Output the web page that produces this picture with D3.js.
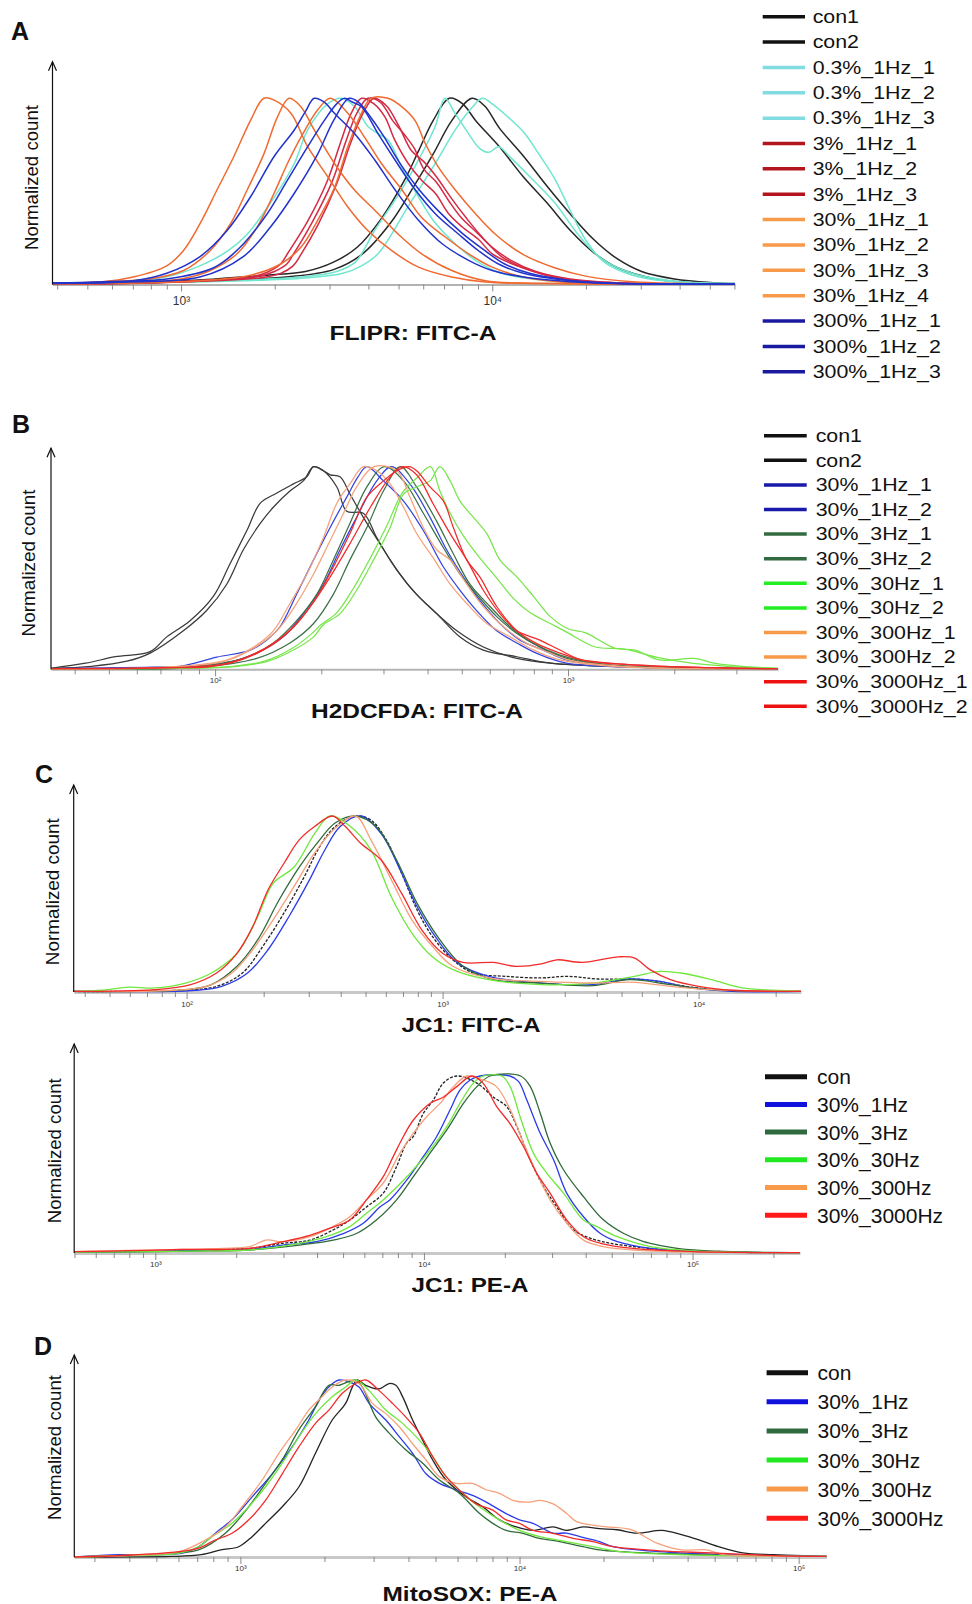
<!DOCTYPE html>
<html>
<head>
<meta charset="utf-8">
<script src="https://cdn.jsdelivr.net/npm/d3@7"></script>
<style>
  body { margin: 0; background: #fff; }
  svg { display: block; }
  text { font-family: "Liberation Sans", Arial, sans-serif; }
</style>
</head>
<body>
<div id="chart"></div>
<script>
// ---- data: each point is [log10 intensity, normalized count %] ----

// panel A : FLIPR
const aNames = ['con1', 'con2', '0.3%_1Hz_1', '0.3%_1Hz_2', '0.3%_1Hz_3', '3%_1Hz_1', '3%_1Hz_2', '3%_1Hz_3',
  '30%_1Hz_1', '30%_1Hz_2', '30%_1Hz_3', '30%_1Hz_4', '300%_1Hz_1', '300%_1Hz_2', '300%_1Hz_3'];
const aTicks = [1e3, 1e4];
const aTickLabels = ['10³', '10⁴'];
const aCon1 = [[2.587,0.5],[2.9,1],[3.11,3],[3.277,5],[3.4,7],[3.49,12],[3.566,20],[3.642,35],[3.718,56],[3.764,72],[3.81,88],[3.862,100],[3.905,97],[3.947,88],[4.023,74],[4.099,58],[4.175,44],[4.251,29],[4.327,17],[4.403,9],[4.525,3],[4.63,1],[4.78,0.3]];
const aCon2 = [[2.587,0.5],[2.9,1],[3.1,2],[3.338,4],[3.49,8],[3.58,16],[3.673,33],[3.749,53],[3.81,70],[3.87,88],[3.935,100],[3.975,96],[4.023,84],[4.1,69],[4.175,53],[4.25,38],[4.327,24],[4.4,14],[4.48,7],[4.585,3],[4.71,1],[4.78,0.5]];
const aT1 = [[2.587,0.5],[2.9,1],[3.2,2.5],[3.385,4],[3.5,7],[3.56,12],[3.622,29],[3.709,51],[3.773,70],[3.817,85],[3.848,100],[3.88,92],[3.92,82],[3.96,73],[3.99,71],[4.02,74],[4.06,68],[4.12,58],[4.2,44],[4.28,26],[4.35,14],[4.45,6],[4.6,1.5],[4.78,0.4]];
const aT2 = [[2.587,0.5],[2.9,1],[3.2,2],[3.4,3.5],[3.52,6],[3.58,10],[3.633,16.5],[3.73,42],[3.817,65],[3.881,83],[3.935,95],[3.968,100],[4.0,97],[4.05,90],[4.1,82],[4.15,70],[4.2,57],[4.25,40],[4.3,24],[4.36,12],[4.45,5],[4.55,2],[4.78,0.5]];
const aT3 = [[2.587,0.5],[2.8,1.5],[2.95,4],[3.06,10],[3.15,18],[3.2125,27],[3.3,47],[3.364,65],[3.407,83],[3.471,97],[3.515,100],[3.558,95.5],[3.6,85],[3.633,81],[3.666,77.5],[3.709,63],[3.763,47],[3.817,33],[3.88,22],[3.946,13],[4.03,6],[4.15,2.5],[4.35,0.8],[4.78,0.3]];
const aR1 = [[2.587,0.3],[2.9,1],[3.1,2.5],[3.223,4],[3.277,6.6],[3.32,11],[3.342,16.5],[3.407,34],[3.471,56],[3.515,77.5],[3.547,92],[3.58,100],[3.62,97],[3.655,90],[3.687,77.5],[3.73,65],[3.773,56],[3.817,49],[3.86,38],[3.903,31],[3.957,24],[4.0,16.5],[4.08,10],[4.175,5],[4.25,2.5],[4.4,0.8],[4.78,0.3]];
const aR2 = [[2.587,0.3],[2.9,1],[3.1,2.2],[3.24,4],[3.3,7],[3.34,11],[3.36,16],[3.42,33],[3.485,55],[3.53,77],[3.565,92],[3.6,100],[3.64,98],[3.68,88],[3.72,80],[3.75,73],[3.78,62],[3.82,55],[3.86,45],[3.9,36],[3.95,28],[4.0,20],[4.06,13],[4.14,7],[4.25,3],[4.4,1],[4.78,0.3]];
const aR3 = [[2.587,0.3],[2.9,0.8],[3.1,2],[3.25,3.5],[3.32,6],[3.36,10],[3.385,16],[3.44,32],[3.5,54],[3.545,76],[3.585,92],[3.62,100],[3.66,96],[3.7,85],[3.74,72],[3.78,66],[3.82,58],[3.87,46],[3.92,35],[3.97,25],[4.03,15],[4.1,9],[4.2,4],[4.3,1.5],[4.78,0.3]];
const aO1 = [[2.587,0.6],[2.738,1.3],[2.846,4],[2.954,10],[3.008,18.3],[3.061,32.7],[3.115,50.6],[3.169,68.5],[3.223,88],[3.266,100],[3.299,99],[3.353,92],[3.407,74],[3.471,58],[3.536,41.6],[3.6,29],[3.676,18.3],[3.763,9.3],[3.87,4],[3.978,1.3],[4.2,0.5],[4.78,0.3]];
const aO2 = [[2.587,0.5],[2.75,1.5],[2.9,3],[3.008,7.5],[3.094,18.3],[3.159,32.7],[3.212,50.6],[3.266,70],[3.31,90],[3.347,100],[3.385,95.5],[3.428,83],[3.493,65],[3.558,50.6],[3.622,40],[3.698,27],[3.773,16.5],[3.87,7.5],[3.978,2],[4.2,0.6],[4.78,0.3]];
const aO3 = [[2.587,0.4],[2.8,1],[3.0,3],[3.094,7.5],[3.18,16.5],[3.245,31],[3.299,49],[3.342,65],[3.385,79],[3.44,94],[3.48,100],[3.536,92],[3.59,79],[3.644,65],[3.709,51],[3.773,36],[3.849,25.5],[3.924,16.5],[4.0,9.3],[4.1,4],[4.25,1],[4.78,0.3]];
const aO4 = [[2.587,0.4],[2.9,1],[3.06,2],[3.223,5],[3.32,11],[3.385,20],[3.439,34.5],[3.493,52],[3.536,74],[3.58,92],[3.61,100],[3.665,100],[3.709,95.5],[3.752,88],[3.784,76],[3.827,63],[3.88,51],[3.946,38],[4.01,27],[4.1,16],[4.2,9],[4.3,4.5],[4.45,1.5],[4.78,0.3]];
const aB1 = [[2.587,0.8],[2.738,1],[2.846,2],[2.954,6],[3.061,15],[3.148,29],[3.223,47],[3.3,69],[3.364,83],[3.4,93],[3.428,100],[3.46,98],[3.493,92],[3.558,81],[3.622,67],[3.687,51],[3.763,34.5],[3.838,22],[3.924,13],[4.0,7.5],[4.1,4],[4.25,1.5],[4.4,0.5],[4.78,0.3]];
const aB2 = [[2.587,0.8],[2.75,1.5],[2.954,3],[3.105,9],[3.19,20],[3.277,38],[3.342,56],[3.407,74],[3.46,88],[3.5,97],[3.525,100],[3.55,98],[3.58,95.5],[3.633,81],[3.687,67],[3.752,51],[3.817,38],[3.892,27],[3.957,18],[4.02,11],[4.1,6],[4.25,2],[4.4,0.6],[4.78,0.3]];
const aB3 = [[2.587,0.6],[2.8,1.2],[3.06,4],[3.2,15],[3.288,31],[3.364,49],[3.439,70],[3.49,88],[3.54,100],[3.57,98],[3.6,92],[3.65,80],[3.7,66],[3.76,52],[3.83,39],[3.9,28],[3.97,19],[4.04,11],[4.12,6],[4.25,2.2],[4.4,0.7],[4.78,0.3]];
const aSeries = [aCon1, aCon2, aT1, aT2, aT3, aR1, aR2, aR3, aO1, aO2, aO3, aO4, aB1, aB2, aB3];

// panel B : H2DCFDA
const bNames = ['con1', 'con2', '30%_1Hz_1', '30%_1Hz_2', '30%_3Hz_1', '30%_3Hz_2', '30%_30Hz_1', '30%_30Hz_2',
  '30%_300Hz_1', '30%_300Hz_2', '30%_3000Hz_1', '30%_3000Hz_2'];
const bTicks = [1e2, 1e3];
const bTickLabels = ['10²', '10³'];
const bCon1 = [[1.535,0.5],[1.633,3],[1.717,6.2],[1.816,8.7],[1.863,16],[1.929,24],[1.995,36],[2.042,52],[2.09,68.5],[2.128,82],[2.175,87],[2.222,91.5],[2.26,95],[2.279,100],[2.307,98],[2.326,96],[2.354,95],[2.382,86.5],[2.42,75],[2.467,62],[2.515,49],[2.571,37],[2.628,27.5],[2.694,16],[2.76,9.5],[2.855,6.2],[2.95,3],[3.147,1.3],[3.595,0.3]];
const bCon2 = [[1.535,0.5],[1.65,1.5],[1.75,4],[1.816,8],[1.91,19],[1.976,29],[2.033,42],[2.08,59],[2.128,72],[2.165,80],[2.212,88],[2.25,93],[2.279,100],[2.307,98],[2.345,90],[2.373,78],[2.42,77],[2.458,65],[2.496,54],[2.552,40.6],[2.618,29],[2.685,19],[2.76,11],[2.855,5.4],[2.95,3],[3.147,1.3],[3.595,0.3]];
const b1Hz1 = [[1.535,0.3],[1.8,1],[1.9,1.5],[2.005,6],[2.1,9.5],[2.15,15],[2.184,21],[2.231,37],[2.279,54],[2.326,70],[2.373,85],[2.405,95],[2.43,100],[2.477,93],[2.534,83],[2.59,68.5],[2.647,50.5],[2.694,39],[2.741,29],[2.798,19],[2.855,13],[2.91,8],[2.996,3],[3.2,1],[3.595,0.3]];
const b1Hz2 = [[1.535,0.3],[1.85,1],[2.024,3],[2.118,8],[2.193,16],[2.25,27.5],[2.307,42],[2.354,59],[2.401,75],[2.458,93],[2.5,100],[2.552,91.5],[2.609,75],[2.656,59],[2.703,45.6],[2.75,34],[2.807,22.6],[2.864,14.4],[2.93,9.5],[2.996,4.6],[3.15,1.5],[3.595,0.3]];
const b3Hz1 = [[1.535,0.3],[1.9,1],[2.08,5.4],[2.165,13],[2.231,24],[2.288,37],[2.335,54],[2.382,72],[2.43,90],[2.48,100],[2.534,93],[2.59,77],[2.647,60],[2.694,47],[2.741,37],[2.798,26],[2.855,17.7],[2.92,11],[2.996,5.4],[3.15,1.5],[3.595,0.3]];
const b3Hz2 = [[1.535,0.3],[1.95,1],[2.118,5.4],[2.212,13],[2.279,22.6],[2.335,37],[2.382,54],[2.43,70],[2.477,88],[2.525,100],[2.571,90],[2.628,73],[2.675,57],[2.722,42],[2.779,31],[2.836,21],[2.902,12.8],[2.977,7],[3.1,2.5],[3.3,0.8],[3.595,0.3]];
const b30Hz1 = [[1.535,0.2],[2.0,0.8],[2.052,1.3],[2.146,3.8],[2.222,9.5],[2.279,16],[2.307,22],[2.354,27.5],[2.401,39],[2.449,54],[2.496,70],[2.534,86.5],[2.571,90],[2.609,93],[2.637,100],[2.666,93],[2.694,83],[2.732,75],[2.77,67],[2.807,54],[2.855,45.6],[2.902,36],[2.95,26],[3.0,20],[3.05,18],[3.133,10.4],[3.19,9.5],[3.26,4.6],[3.358,5.4],[3.414,3],[3.5,1.3],[3.595,0.5]];
const b30Hz2 = [[1.535,0.2],[2.0,0.9],[2.05,1.5],[2.14,4],[2.215,10],[2.27,17],[2.3,22],[2.345,28],[2.392,40],[2.44,55],[2.487,71],[2.53,87],[2.575,95],[2.61,100],[2.637,88],[2.666,77],[2.703,66],[2.75,55],[2.798,45],[2.845,35],[2.892,28],[2.95,22.6],[3.0,18],[3.077,11],[3.16,10],[3.25,6],[3.35,3],[3.45,1.5],[3.595,0.5]];
const b300Hz1 = [[1.535,0.3],[1.85,1],[2.033,4.6],[2.109,11],[2.165,19],[2.212,32.5],[2.26,47],[2.307,65],[2.345,82],[2.382,91.5],[2.42,100],[2.458,98],[2.496,91.5],[2.534,80],[2.571,67],[2.618,55],[2.666,42],[2.713,32.5],[2.77,22.6],[2.836,16],[2.902,9.5],[2.977,4.6],[3.15,1.2],[3.595,0.3]];
const b300Hz2 = [[1.535,0.3],[1.85,1],[2.024,3.8],[2.1,9.5],[2.175,19],[2.231,32.5],[2.279,47],[2.326,63.6],[2.364,77],[2.401,90],[2.45,100],[2.515,98],[2.552,85],[2.59,70],[2.628,59],[2.666,54],[2.713,42],[2.76,31],[2.817,21],[2.883,12.8],[2.95,8],[3.0,4.6],[3.15,1.5],[3.595,0.3]];
const b3000Hz1 = [[1.535,0.3],[1.9,0.8],[1.986,1.3],[2.08,5.4],[2.165,12.8],[2.231,22.6],[2.288,35.7],[2.335,50.5],[2.382,67],[2.43,85],[2.477,93],[2.515,98],[2.55,100],[2.571,98],[2.609,90],[2.647,83],[2.675,70],[2.713,54],[2.75,45.6],[2.798,31],[2.855,19],[2.91,12.8],[2.977,8],[3.04,4.6],[3.2,2],[3.4,0.8],[3.595,0.3]];
const b3000Hz2 = [[1.535,0.3],[1.9,1],[2.042,3],[2.137,9.5],[2.212,19],[2.27,31],[2.326,45.6],[2.382,62],[2.44,80],[2.496,95],[2.53,100],[2.571,96],[2.618,81.6],[2.666,67],[2.713,54],[2.76,39],[2.807,27.5],[2.855,19],[2.92,14.4],[2.977,9.5],[3.04,4.6],[3.2,2],[3.4,0.8],[3.595,0.3]];
const bSeries = [bCon1, bCon2, b1Hz1, b1Hz2, b3Hz1, b3Hz2, b30Hz1, b30Hz2, b300Hz1, b300Hz2, b3000Hz1, b3000Hz2];

// panels C and D share the six groups
const cdNames = ['con', '30%_1Hz', '30%_3Hz', '30%_30Hz', '30%_300Hz', '30%_3000Hz'];

// panel C, top : JC1 FITC-A
const c1Ticks = [1e2, 1e3, 1e4];
const c1TickLabels = ['10²', '10³', '10⁴'];
const c1Con = [[1.559,0.3],[1.976,1],[2.117,3.2],[2.218,10.8],[2.298,26],[2.38,44.8],[2.46,65.6],[2.52,82.6],[2.58,94],[2.66,100],[2.72,97.7],[2.78,86.4],[2.84,67.5],[2.9,46.7],[2.96,31.6],[3.04,18.3],[3.12,10.8],[3.245,8.9],[3.386,8],[3.486,8.9],[3.607,7.4],[3.79,7],[3.95,3.2],[4.09,1],[4.4,0.4]];
const c11Hz = [[1.559,0.3],[2.04,1],[2.137,3.2],[2.238,10.8],[2.318,24],[2.4,42.9],[2.48,63.7],[2.54,80.7],[2.6,94],[2.68,100],[2.76,90],[2.84,67.5],[2.9,48.6],[2.98,29.7],[3.06,16.4],[3.18,8.9],[3.386,5.1],[3.587,4.2],[3.73,7.4],[3.85,6],[3.97,2.3],[4.13,0.4],[4.4,0.3]];
const c13Hz = [[1.559,0.3],[1.996,1.3],[2.097,4.2],[2.197,14.6],[2.278,29.7],[2.36,52],[2.44,71],[2.52,86.4],[2.58,96],[2.66,100],[2.74,94],[2.82,75],[2.9,50.5],[2.98,31.6],[3.08,14.6],[3.2,7],[3.386,5.1],[3.587,3.6],[3.73,7],[3.89,4.2],[4.05,1.3],[4.4,0.3]];
const c130Hz = [[1.559,0.4],[1.674,1],[1.774,2.8],[1.875,2.3],[1.996,5.1],[2.097,10.8],[2.197,22],[2.278,42.9],[2.338,61.8],[2.42,71],[2.5,90],[2.56,100],[2.64,94],[2.72,80.7],[2.8,54],[2.88,33.5],[2.96,20],[3.04,12.7],[3.18,7],[3.386,4.2],[3.587,5.1],[3.75,8.9],[3.85,11.7],[3.93,10.8],[4.05,7],[4.17,2.3],[4.29,1],[4.4,0.4]];
const c1300Hz = [[1.559,0.3],[1.95,1],[2.077,3.2],[2.177,10.8],[2.258,24],[2.338,41],[2.42,60],[2.5,79],[2.58,93],[2.66,100],[2.72,86.4],[2.8,63.7],[2.88,41],[2.96,26],[3.04,14.6],[3.18,8],[3.386,6],[3.587,5.1],[3.75,5.5],[3.89,3.2],[4.05,1.3],[4.4,0.3]];
const c13000Hz = [[1.559,0.3],[1.875,1.3],[2.016,4.2],[2.117,10.8],[2.197,22],[2.258,37],[2.318,58],[2.38,73],[2.44,86.4],[2.5,94],[2.57,100],[2.62,94],[2.68,84.5],[2.76,75],[2.84,56],[2.92,35],[3.0,22],[3.08,16.8],[3.2,16.8],[3.285,14.6],[3.386,16],[3.446,18.3],[3.546,16.8],[3.688,20],[3.75,19.3],[3.81,12.7],[3.89,7],[4.0,3.2],[4.13,1],[4.4,0.3]];
const c1Series = [c1Con, c11Hz, c13Hz, c130Hz, c1300Hz, c13000Hz];

// panel C, bottom : JC1 PE-A
const c2Ticks = [1e3, 1e4, 1e5];
const c2TickLabels = ['10³', '10⁴', '10⁵'];
const c2Con = [[2.698,0.5],[3.0,1],[3.2,2],[3.35,2.6],[3.475,5.5],[3.575,7.3],[3.662,13],[3.724,18.6],[3.786,26],[3.848,33.7],[3.898,48.8],[3.935,62],[3.96,65.7],[3.998,79],[4.035,86.4],[4.072,96],[4.122,100],[4.197,96],[4.259,88],[4.308,82.7],[4.346,71.4],[4.396,52.5],[4.445,37.5],[4.495,26],[4.557,13],[4.62,8.3],[4.694,5.5],[4.78,3.6],[4.843,2.6],[5.0,1],[5.2,0.3],[5.4,0.2]];
const c21Hz = [[2.698,0.5],[3.0,1],[3.2,1.5],[3.35,2],[3.475,4.5],[3.6,6.4],[3.7,11],[3.774,16.8],[3.836,26],[3.873,30],[3.935,41],[3.998,54.6],[4.047,65.7],[4.097,80.8],[4.134,92],[4.172,97.7],[4.209,100],[4.32,100],[4.352,97],[4.383,86.4],[4.433,67.6],[4.483,52.5],[4.532,33.7],[4.594,20.5],[4.657,11],[4.72,6.4],[4.843,2.6],[5.0,1],[5.2,0.3],[5.4,0.2]];
const c23Hz = [[2.698,0.5],[3.0,0.8],[3.2,1.2],[3.35,1.7],[3.537,4.5],[3.662,7.3],[3.749,11],[3.823,18.6],[3.898,30],[3.96,43],[4.022,56.3],[4.085,69.5],[4.147,84.5],[4.197,94],[4.246,100],[4.36,100],[4.396,94],[4.433,79],[4.47,62],[4.52,46.9],[4.594,31.8],[4.669,18.6],[4.744,11],[4.818,6.4],[4.843,5.5],[4.95,2.5],[5.1,1],[5.3,0.3],[5.4,0.2]];
const c230Hz = [[2.698,0.5],[3.0,0.8],[3.2,1.2],[3.35,1.7],[3.537,5.5],[3.637,9.2],[3.724,14.9],[3.786,22.4],[3.848,30],[3.923,41],[3.96,47],[4.022,58],[4.085,71.4],[4.134,84.5],[4.184,96],[4.22,100],[4.29,100],[4.321,94],[4.358,77],[4.408,56.3],[4.458,45],[4.52,33.7],[4.594,18.6],[4.644,14.9],[4.72,9.2],[4.843,3.6],[5.0,1.2],[5.2,0.3],[5.4,0.2]];
const c2300Hz = [[2.698,0.8],[2.9,1.5],[3.1,2],[3.25,2.6],[3.35,3.6],[3.413,7.3],[3.475,6.4],[3.575,9.2],[3.662,15],[3.724,20.5],[3.786,30],[3.848,39.4],[3.91,56.3],[3.96,67.6],[4.01,77],[4.06,84.5],[4.11,94],[4.16,100],[4.22,97.7],[4.27,94],[4.321,81],[4.371,62],[4.42,45],[4.47,30],[4.532,16.8],[4.594,7.3],[4.669,3.6],[4.78,1.7],[5.0,0.6],[5.4,0.2]];
const c23000Hz = [[2.698,0.8],[2.9,1.3],[3.1,2],[3.35,2.6],[3.475,6.4],[3.575,10],[3.65,14],[3.724,18.6],[3.786,30],[3.848,43],[3.886,54.6],[3.923,65.7],[3.96,75],[4.022,84.5],[4.072,88],[4.122,94],[4.178,100],[4.22,96],[4.271,82.7],[4.321,73],[4.371,60],[4.42,45],[4.47,33.7],[4.532,18.6],[4.594,9.2],[4.657,5.5],[4.78,2.6],[5.0,0.8],[5.4,0.2]];
const c2Series = [c2Con, c21Hz, c23Hz, c230Hz, c2300Hz, c23000Hz];

// panel D : MitoSOX PE-A
const dTicks = [1e3, 1e4, 1e5];
const dTickLabels = ['10³', '10⁴', '10⁵'];
const dCon = [[2.405,0],[2.75,0.3],[2.86,1.3],[2.93,4],[2.994,5.8],[3.042,11.5],[3.09,19],[3.15,28.4],[3.21,39.7],[3.269,58.6],[3.329,77.4],[3.377,86.8],[3.401,96],[3.419,100],[3.449,97],[3.497,95],[3.533,98],[3.557,97],[3.581,90.6],[3.617,77.4],[3.653,66],[3.689,54.8],[3.737,43.5],[3.808,34],[3.868,28.4],[3.928,21],[3.988,17],[4.048,15],[4.12,17],[4.168,15],[4.228,17],[4.287,16],[4.35,15.4],[4.42,13.5],[4.51,15],[4.58,12.6],[4.64,9.8],[4.71,6],[4.8,2.3],[4.91,1.3],[5.02,0.7],[5.1,0.4]];
const d1Hz = [[2.405,0],[2.57,1.3],[2.79,2],[2.85,5.8],[2.922,15],[2.97,21],[3.042,34],[3.114,47],[3.186,62.3],[3.245,77.4],[3.293,91.5],[3.33,98],[3.353,100],[3.39,99],[3.425,96],[3.461,86.8],[3.521,77.4],[3.569,68],[3.617,58.6],[3.665,47],[3.713,41.6],[3.772,38],[3.844,34],[3.892,30],[3.952,24.5],[4.0,21],[4.048,19],[4.12,13.5],[4.168,13.5],[4.216,11.5],[4.287,8.7],[4.335,5.8],[4.5,3],[4.7,1.5],[5.1,0.4]];
const d3Hz = [[2.405,0],[2.6,1],[2.78,2.5],[2.85,4],[2.946,13.4],[3.03,28.4],[3.09,41.6],[3.15,55],[3.21,72],[3.269,85],[3.317,97],[3.353,97],[3.413,100],[3.437,96],[3.485,79],[3.533,70],[3.593,60.5],[3.653,53],[3.713,43.5],[3.784,36],[3.856,24.7],[3.904,19],[3.952,15],[4.012,13.4],[4.072,10.5],[4.144,8.7],[4.228,5.8],[4.287,4],[4.36,3],[4.6,1.5],[4.9,0.6],[5.1,0.3]];
const d30Hz = [[2.405,0],[2.6,0.8],[2.78,2],[2.85,5.8],[2.898,11.5],[2.97,19],[3.03,28.4],[3.09,39.7],[3.15,53],[3.21,68],[3.269,81],[3.329,90.6],[3.377,96],[3.413,100],[3.461,94],[3.521,83],[3.581,75.5],[3.641,66],[3.689,56.7],[3.737,45.4],[3.797,36],[3.856,28.4],[3.928,21],[4.0,15],[4.072,11.5],[4.168,8.7],[4.263,5.8],[4.36,3],[4.6,1.2],[5.1,0.3]];
const d300Hz = [[2.405,0],[2.6,1],[2.78,3],[2.874,9.6],[2.946,17],[3.006,28.4],[3.078,43.5],[3.138,58.6],[3.198,71.8],[3.245,83],[3.281,88.7],[3.329,96],[3.377,100],[3.425,98],[3.473,86.8],[3.521,81],[3.569,73.6],[3.617,64],[3.665,54.8],[3.713,45.4],[3.772,41.6],[3.832,41.6],[3.88,38],[3.928,36],[3.976,32],[4.036,31],[4.072,32],[4.12,30],[4.168,24.7],[4.204,20],[4.263,18],[4.311,17],[4.4,15.4],[4.49,8],[4.58,4],[4.67,4],[4.73,1.3],[4.9,0.5],[5.1,0.3]];
const d3000Hz = [[2.405,0],[2.6,1],[2.78,3],[2.85,5],[2.91,9.6],[2.97,13.4],[3.03,21],[3.09,32],[3.15,47],[3.21,62.3],[3.269,75.5],[3.317,83],[3.365,92.5],[3.413,98],[3.449,100],[3.497,94],[3.545,86.8],[3.593,79],[3.641,70],[3.689,56.7],[3.737,45.4],[3.797,36],[3.844,30],[3.904,26.5],[3.952,21],[4.0,19],[4.048,15],[4.12,13.4],[4.192,10.5],[4.263,8.7],[4.335,5.8],[4.5,3.5],[4.69,2.3],[4.91,0.8],[5.1,0.3]];
const dSeries = [dCon, d1Hz, d3Hz, d30Hz, d300Hz, d3000Hz];

// ---- colours ----
const aLineColors = ['#262626', '#262626', '#6fe6cf', '#6fe6cf', '#6fe6cf', '#d42a45', '#d42a45', '#d42a45',
  '#f06a30', '#f06a30', '#f06a30', '#f06a30', '#2233cc', '#2233cc', '#2233cc'];
const aKeyColors = ['#111', '#111', '#80dce0', '#80dce0', '#80dce0', '#b4141c', '#b4141c', '#b4141c',
  '#f79a4a', '#f79a4a', '#f79a4a', '#f79a4a', '#1a1aa0', '#1a1aa0', '#1a1aa0'];
const bLineColors = ['#3a3a3a', '#3a3a3a', '#3344e0', '#3344e0', '#3d7048', '#3d7048', '#77e64a', '#77e64a',
  '#f5a27a', '#f5a27a', '#f02a2a', '#f02a2a'];
const bKeyColors = ['#111', '#111', '#1a1aaa', '#1a1aaa', '#336b40', '#336b40', '#22ee22', '#22ee22',
  '#f79a4a', '#f79a4a', '#ee1111', '#ee1111'];
const cdLineColors = ['#222', '#2a3be8', '#2f6a3a', '#6fe83c', '#f6a07a', '#f22a2a'];
const cdKeyColors = ['#111', '#1111dd', '#2f6a3f', '#22e822', '#f79a4a', '#ff1a1a'];

// ---- drawing ----
const svg = d3.select('#chart').append('svg').attr('width', 972).attr('height', 1604);

function drawPanel(p) {
  const g = svg.append('g');
  const x = d3.scaleLog().domain([10 ** p.lo, 10 ** p.hi]).range([p.left, p.right]);
  const y = d3.scaleLinear().domain([0, 100]).range([p.base, p.top]);

  const minor = [];
  for (let k = Math.floor(p.lo); k <= Math.ceil(p.hi); k++) {
    for (let m = 1; m < 10; m++) {
      const v = m * 10 ** k;
      if (v >= 10 ** p.lo && v <= 10 ** p.hi) minor.push(v);
    }
  }
  const ax = g.append('g').attr('transform', `translate(0,${p.base})`)
    .call(d3.axisBottom(x).tickValues(minor).tickSize(5).tickSizeOuter(0)
      .tickFormat(v => { const i = p.ticks.indexOf(v); return i < 0 ? '' : p.tickLabels[i]; }));
  ax.select('.domain').attr('stroke', p.axisColor).attr('stroke-width', p.axisW);
  ax.selectAll('.tick line').attr('stroke', '#8a8a8a');
  ax.selectAll('.tick').filter(v => p.ticks.includes(v)).select('line').attr('y2', 7);
  ax.selectAll('.tick text').attr('y', p.tickY - p.base).attr('dy', null)
    .attr('font-size', p.tickFont).attr('fill', '#333')
    .attr('font-family', '"Liberation Sans", Arial, sans-serif');

  const line = d3.line()
    .x(d => x(10 ** d[0]))
    .y(d => y(d[1]))
    .curve(d3.curveCatmullRom.alpha(0.5));

  g.append('g').selectAll('path')
    .data(p.series)
    .join('path')
    .attr('d', line)
    .attr('fill', 'none')
    .attr('stroke', (d, i) => p.colors[i])
    .attr('stroke-width', p.lineW)
    .attr('stroke-dasharray', (d, i) => (p.dashFirst && i === 0) ? '3,1.5' : null);

  // y axis with open arrow head
  g.append('line')
    .attr('x1', p.left).attr('x2', p.left)
    .attr('y1', p.base).attr('y2', p.arrow)
    .attr('stroke', '#111').attr('stroke-width', 1.2);
  g.append('path')
    .attr('d', `M${p.left - 4},${p.arrow + 9}L${p.left},${p.arrow}L${p.left + 4},${p.arrow + 9}`)
    .attr('fill', 'none').attr('stroke', '#111').attr('stroke-width', 1.2);

  g.append('text')
    .attr('transform', `translate(${p.ylab[0]},${p.ylab[1]}) rotate(-90)`)
    .attr('text-anchor', 'middle').attr('dominant-baseline', 'central')
    .attr('font-size', 19).attr('fill', '#111')
    .attr('textLength', p.ylab[2]).attr('lengthAdjust', 'spacingAndGlyphs')
    .text('Normalized count');

  g.append('text')
    .attr('x', p.title[1]).attr('y', p.title[2])
    .attr('text-anchor', 'middle')
    .attr('font-size', 21).attr('font-weight', 'bold').attr('fill', '#111')
    .attr('textLength', p.title[3]).attr('lengthAdjust', 'spacingAndGlyphs')
    .text(p.title[0]);

  if (p.letter) {
    g.append('text')
      .attr('x', p.letter[1]).attr('y', p.letter[2])
      .attr('font-size', 25).attr('font-weight', 'bold').attr('fill', '#111')
      .text(p.letter[0]);
  }

  if (p.legend) {
    const L = p.legend;
    const row = g.append('g').selectAll('g')
      .data(L.names)
      .join('g')
      .attr('transform', (d, i) => `translate(0,${L.y0 + i * L.dy})`);
    row.append('line')
      .attr('x1', L.x1).attr('x2', L.x2)
      .attr('stroke', (d, i) => L.colors[i]).attr('stroke-width', L.lw);
    row.append('text')
      .attr('transform', `translate(${L.tx},${L.fs * 0.36}) scale(${L.sx},1)`)
      .attr('font-size', L.fs).attr('fill', '#111')
      .text(d => d);
  }
}

drawPanel({
  lo: 2.587, hi: 4.78, left: 52.5, right: 735, base: 284.5, top: 98.3, arrow: 61.7,
  ticks: aTicks, tickLabels: aTickLabels, tickY: 305, tickFont: 12, axisColor: '#9a9a9a', axisW: 1.5,
  series: aSeries, colors: aLineColors, lineW: 1.5,
  ylab: [31, 177.5, 145], title: ['FLIPR: FITC-A', 413, 340, 167], letter: ['A', 11, 40],
  legend: { names: aNames, colors: aKeyColors, y0: 16.7, dy: 25.36, x1: 762.7, x2: 805, tx: 812.7, fs: 17.5, sx: 1.22, lw: 3.5 }
});

drawPanel({
  lo: 1.535, hi: 3.595, left: 51, right: 778, base: 669.3, top: 466.7, arrow: 448.3,
  ticks: bTicks, tickLabels: bTickLabels, tickY: 683, tickFont: 8, axisColor: '#b5b5b5', axisW: 2,
  series: bSeries, colors: bLineColors, lineW: 1.25,
  ylab: [28.5, 563, 147], title: ['H2DCFDA: FITC-A', 417, 718.3, 212], letter: ['B', 12, 433.3],
  legend: { names: bNames, colors: bKeyColors, y0: 435.7, dy: 24.6, x1: 764, x2: 806.7, tx: 815.7, fs: 17.5, sx: 1.22, lw: 3.5 }
});

drawPanel({
  lo: 1.559, hi: 4.40, left: 73.7, right: 801, base: 992, top: 816, arrow: 785,
  ticks: c1Ticks, tickLabels: c1TickLabels, tickY: 1006.7, tickFont: 8, axisColor: '#c8c8c8', axisW: 3,
  series: c1Series, colors: cdLineColors, lineW: 1.3, dashFirst: true,
  ylab: [52, 891.7, 147], title: ['JC1: FITC-A', 471, 1031.7, 139], letter: ['C', 35, 783]
});

drawPanel({
  lo: 2.698, hi: 5.40, left: 74.2, right: 800, base: 1253, top: 1076, arrow: 1044,
  ticks: c2Ticks, tickLabels: c2TickLabels, tickY: 1267, tickFont: 8, axisColor: '#c8c8c8', axisW: 3,
  series: c2Series, colors: cdLineColors, lineW: 1.3, dashFirst: true,
  ylab: [54, 1150.8, 145], title: ['JC1: PE-A', 470, 1291.7, 117],
  legend: { names: cdNames, colors: cdKeyColors, y0: 1076.7, dy: 27.7, x1: 765, x2: 807, tx: 817, fs: 21, sx: 1, lw: 5 }
});

drawPanel({
  lo: 2.405, hi: 5.10, left: 74.3, right: 826.6, base: 1557, top: 1380, arrow: 1355,
  ticks: dTicks, tickLabels: dTickLabels, tickY: 1570.7, tickFont: 8, axisColor: '#c8c8c8', axisW: 3,
  series: dSeries, colors: cdLineColors, lineW: 1.3,
  ylab: [54, 1447.5, 145], title: ['MitoSOX: PE-A', 470, 1601, 175], letter: ['D', 34, 1355],
  legend: { names: cdNames, colors: cdKeyColors, y0: 1372.7, dy: 29.1, x1: 766.6, x2: 808, tx: 817.5, fs: 21, sx: 1, lw: 5 }
});
</script>
</body>
</html>
